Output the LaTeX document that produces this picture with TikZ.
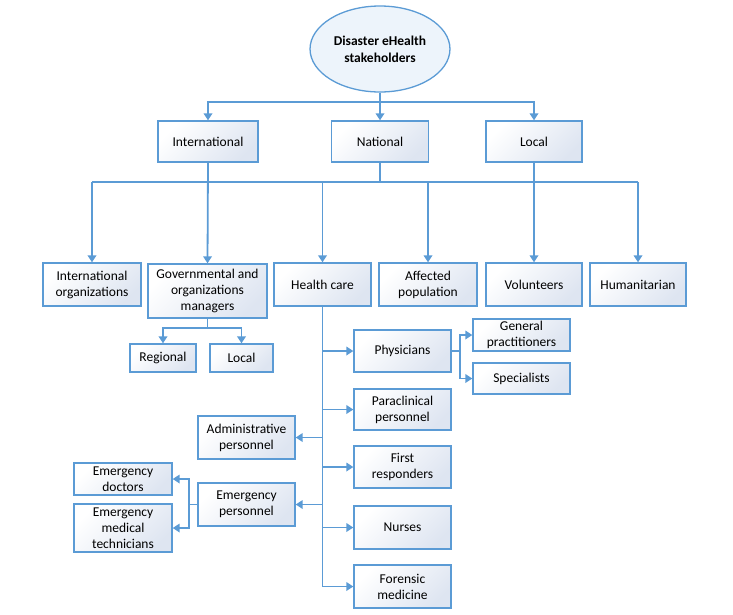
\documentclass[tikz,border=0pt]{standalone}
\usepackage{fontspec}
\setmainfont{Carlito}
\usetikzlibrary{arrows.meta,shapes.geometric}
\definecolor{bordercol}{RGB}{91,155,213}
\definecolor{linecol}{RGB}{91,155,213}
\definecolor{boxshade}{RGB}{222,229,241}
\definecolor{ellfill}{RGB}{237,244,251}
\tikzset{
  box/.style={draw=bordercol, line width=1.3pt, top color=white, bottom color=boxshade, shading angle=45,
    align=center, inner sep=2pt, font=\fontsize{13.5}{16}\selectfont},
  conn/.style={draw=linecol, line width=1.8pt},
  arr/.style={conn, -{Triangle[width=8.5pt,length=7pt]}},
}
\newcommand{\bx}[6]{\node[box, minimum width=#3pt, minimum height=#4pt] (#1) at (#2) {#6};}
\begin{document}
\begin{tikzpicture}[x=1pt,y=-1pt]
\useasboundingbox (0,0) rectangle (733,614);
\node[ellipse, draw=bordercol, fill=ellfill, line width=1.3pt, minimum width=136pt, minimum height=86pt, align=center,
  font=\fontsize{13.5}{17}\selectfont\bfseries] (root) at (380,49) {Disaster eHealth\\stakeholders};
% top row
\bx{intl}{208,141.5}{100}{41}{}{International}
\bx{natl}{380,141.5}{97}{41}{}{National}
\bx{local}{534,141.5}{96}{41}{}{Local}
% second row
\bx{intorg}{92,284.5}{98}{43}{}{International\\organizations}
\bx{gov}{207.5,291}{119}{54}{}{Governmental and\\organizations\\managers}
\bx{hc}{322.5,284.5}{97}{43}{}{Health care}
\bx{aff}{428,284.5}{98}{43}{}{Affected\\population}
\bx{vol}{534,284.5}{96}{43}{}{Volunteers}
\bx{hum}{638,284.5}{96}{43}{}{Humanitarian}
% gov children
\bx{reg}{163,358}{66}{28}{}{Regional}
\bx{locg}{241.5,358}{63}{28}{}{Local}
% health care right
\bx{phys}{402.5,351}{97}{42}{}{Physicians}
\bx{gp}{521.5,335}{97}{32}{}{General\\practitioners}
\bx{spec}{521.5,378.5}{97}{31}{}{Specialists}
\bx{para}{402.5,409.5}{97}{41}{}{Paraclinical\\personnel}
\bx{first}{402.5,467}{97}{42}{}{First\\responders}
\bx{nurs}{402.5,527.5}{97}{43}{}{Nurses}
\bx{fore}{402.5,586.5}{97}{43}{}{Forensic\\medicine}
% health care left
\bx{admin}{246.5,437.5}{97}{43}{}{Administrative\\personnel}
\bx{emerg}{246.5,504.5}{97}{43}{}{Emergency\\personnel}
\bx{edoc}{123,479}{98}{32}{}{Emergency\\doctors}
\bx{emt}{123,528}{98}{48}{}{Emergency\\medical\\technicians}
% connectors top
\draw[conn] (root.south) -- ++(0,9) coordinate (t0);
\draw[arr] (t0) -| (intl.north);
\draw[arr] (t0) -| (local.north);
\draw[arr] (t0) -- (natl.north);
% bus
\coordinate (bus) at (0,182);
\draw[arr] (intl.south) -- (gov.north);
\draw[arr] (local.south) -- (vol.north);
\draw[conn] (natl.south) -- (natl.south |- bus);
\draw[conn] (intorg.north |- bus) -- (hum.north |- bus);
\draw[arr] (intorg.north |- bus) -- (intorg.north);
\draw[arr] (hc.north |- bus) -- (hc.north);
\draw[arr] (aff.north |- bus) -- (aff.north);
\draw[arr] (hum.north |- bus) -- (hum.north);
% gov
\draw[conn] (gov.south) -- ++(0,9) coordinate (gj);
\draw[arr] (gj) -| (reg.north);
\draw[arr] (gj) -| (locg.north);
% health care spine
\draw[conn] (hc.south) -- (hc.south |- fore.west);
\draw[arr] (hc.south |- phys.west) -- (phys.west);
\draw[arr] (hc.south |- para.west) -- (para.west);
\draw[arr] (hc.south |- first.west) -- (first.west);
\draw[arr] (hc.south |- nurs.west) -- (nurs.west);
\draw[arr] (hc.south |- fore.west) -- (fore.west);
\draw[arr] (hc.south |- admin.east) -- (admin.east);
\draw[arr] (hc.south |- emerg.east) -- (emerg.east);
% physicians branch
\draw[conn] (phys.east) -- ++(8,0) coordinate (pj);
\draw[arr] (pj) |- (gp.west);
\draw[arr] (pj) |- (spec.west);
% emergency branch
\draw[conn] (emerg.west) -- ++(-8,0) coordinate (ej);
\draw[arr] (ej) |- (edoc.east);
\draw[arr] (ej) |- (emt.east);
\end{tikzpicture}
\end{document}
